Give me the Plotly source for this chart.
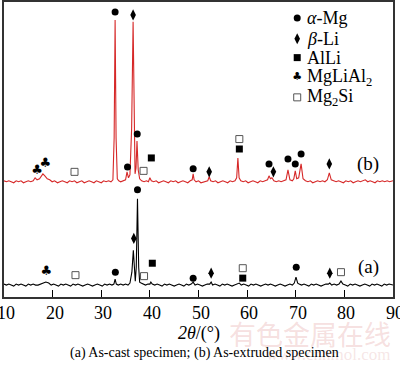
import plotly.graph_objects as go

# ---- data (2theta in degrees, intensity in arbitrary units) ----
# (b) As-extruded specimen (red)
xb = [10.0,10.5,11.0,11.5,12.0,12.5,13.0,13.5,14.0,14.5,15.0,15.5,16.0,16.4,16.8,17.3,17.7,18.0,18.4,18.9,
      19.4,19.9,20.4,21.0,21.5,22.0,22.5,23.0,23.5,24.0,24.5,25.0,25.5,26.0,26.5,27.0,27.5,28.0,28.5,29.0,
      29.5,30.0,30.5,31.0,31.5,32.0,32.4,32.65,32.85,33.05,33.3,33.6,34.0,34.5,35.0,35.3,35.6,35.9,36.25,36.55,
      36.8,36.95,37.15,37.35,37.6,37.9,38.3,38.8,39.3,39.7,40.0,40.3,40.8,41.3,41.8,42.3,42.8,43.3,43.8,44.3,
      44.8,45.3,45.8,46.3,46.8,47.3,47.8,48.3,48.7,48.9,49.1,49.5,50.0,50.5,51.0,51.5,51.9,52.2,52.5,53.0,
      53.5,54.0,54.5,55.0,55.5,56.0,56.5,57.0,57.5,57.85,58.1,58.35,58.7,59.2,59.7,60.2,60.7,61.2,61.7,62.2,
      62.7,63.2,63.7,64.2,64.5,64.8,65.1,65.5,66.0,66.5,67.0,67.5,68.0,68.4,68.8,69.3,69.6,69.9,70.2,70.6,
      71.1,71.5,72.0,72.5,73.0,73.5,74.0,74.5,75.0,75.5,76.0,76.5,76.9,77.3,77.8,78.3,78.8,79.3,79.8,80.3,
      80.8,81.3,81.8,82.3,82.8,83.3,83.8,84.3,84.8,85.3,85.8,86.3,86.8,87.3,87.8,88.3,88.8,89.3,90.0]
ib = [117,116,117,116,115,117,116,117,115,116,117,116,117,120,118,119,122,124,122,119,
      118,116,117,115,116,117,116,115,117,116,117,115,116,117,115,116,117,116,115,117,
      116,115,117,116,117,116,118,160,279,160,119,117,116,117,118,126,120,123,170,277,
      175,124,130,157,128,119,117,116,117,116,120,117,116,117,115,116,117,116,115,117,
      116,117,115,116,117,116,115,117,118,124,118,116,117,115,116,117,117,121,117,116,
      117,115,116,117,116,115,117,116,117,120,140,120,117,116,117,115,116,117,116,115,
      117,116,117,118,122,119,120,117,116,117,116,117,118,128,118,117,119,127,119,120,
      134,119,117,116,117,115,116,117,116,117,116,118,125,118,117,116,117,116,115,117,
      116,117,115,116,117,116,117,118,116,117,116,115,117,116,117,116,117,116,117]

# (a) As-cast specimen (black)
xa = [10.0,10.5,11.0,11.5,12.0,12.5,13.0,13.5,14.0,14.5,15.0,15.5,16.0,16.5,17.0,17.5,18.0,18.6,19.2,19.7,
      20.2,20.7,21.2,21.7,22.2,22.7,23.2,23.7,24.2,24.7,25.2,25.7,26.2,26.7,27.2,27.7,28.2,28.7,29.2,29.7,
      30.2,30.7,31.2,31.7,32.2,32.6,32.85,33.1,33.5,34.0,34.5,35.0,35.5,35.9,36.3,36.6,36.85,37.0,37.2,37.45,
      37.7,37.9,38.2,38.6,39.1,39.6,40.0,40.2,40.5,41.0,41.5,42.0,42.5,43.0,43.5,44.0,44.5,45.0,45.5,46.0,
      46.5,47.0,47.5,48.0,48.5,48.9,49.3,49.8,50.3,50.8,51.3,51.8,52.3,52.6,52.9,53.4,53.9,54.4,54.9,55.4,
      55.9,56.4,56.9,57.4,57.9,58.4,58.8,59.3,59.8,60.3,60.8,61.3,61.8,62.3,62.8,63.3,63.8,64.3,64.8,65.3,
      65.8,66.3,66.8,67.3,67.8,68.3,68.8,69.3,69.7,70.05,70.4,70.7,71.2,71.7,72.2,72.7,73.2,73.7,74.2,74.7,
      75.2,75.7,76.2,76.7,77.0,77.4,77.9,78.4,78.9,79.3,79.7,80.2,80.7,81.2,81.7,82.2,82.7,83.2,83.7,84.2,
      84.7,85.2,85.7,86.2,86.7,87.2,87.7,88.2,88.7,89.2,90.0]
ia = [13,12,13,12,11,13,12,13,12,11,13,12,13,12,12,13,14,15,14,12,
      13,12,11,13,12,13,12,11,13,12,13,12,11,12,13,12,11,12,13,12,
      11,13,12,13,12,13,18,13,12,13,12,13,12,14,25,47,25,16,30,99,
      30,15,14,13,12,13,13,15,13,12,13,12,11,13,12,13,12,11,12,13,
      12,11,13,12,13,15,12,13,12,11,12,13,13,15,12,13,12,11,13,12,
      13,12,11,12,13,14,12,13,12,11,13,12,13,12,11,12,13,12,13,12,
      11,12,13,12,11,12,13,12,14,20,14,13,12,13,12,11,13,12,13,12,
      11,12,13,13,14,12,13,12,13,16,13,12,11,13,12,13,12,11,12,13,
      12,11,13,12,13,12,11,13,12,13,12]

# phase markers (2theta, intensity)
mg_x = [32.85, 35.4, 37.4, 48.9, 64.5, 68.4, 69.9, 71.1, 37.45, 32.9, 48.9, 70.1]
mg_y = [287, 131, 164, 129, 134, 139, 134, 144, 108, 25, 19, 30]
li_x = [36.55, 52.2, 65.4, 76.9, 36.7, 52.6, 77.0]
li_y = [284, 126, 126, 134, 59, 24, 24]
alli_x = [40.3, 58.4, 40.5, 59.1]
alli_y = [140, 149, 34, 19]
mgsi_x = [24.5, 38.7, 58.4, 24.7, 38.8, 59.1, 79.3]
mgsi_y = [126, 127, 159, 22, 21, 29, 25]
club_x = [16.8, 18.5, 18.7]
club_y = [127, 134, 25]

x_ticks = [10, 20, 30, 40, 50, 60, 70, 80, 90]
x_tick_labels = ["10", "20", "30", "40", "50", "60", "70", "80", "90"]
legend_labels = ["<i>α</i>-Mg", "<i>β</i>-Li", "AlLi", "MgLiAl<sub>2</sub>", "Mg<sub>2</sub>Si"]
legend_x = 70.3
legend_y = [281, 260, 241, 221, 201]
curve_labels = ["(b)", "(a)"]
curve_label_x = [84.9, 84.9]
curve_label_y = [134, 30]

SERIF = "Liberation Serif"
RED = "rgb(214,40,40)"

fig = go.Figure()
fig.add_trace(go.Scatter(x=xb, y=ib, mode="lines", line=dict(color=RED, width=1.1), hoverinfo="skip"))
fig.add_trace(go.Scatter(x=xa, y=ia, mode="lines", line=dict(color="black", width=1.1), hoverinfo="skip"))

def mk(x, y, symbol, size, color="black", lw=0):
    fig.add_trace(go.Scatter(x=x, y=y, mode="markers",
                             marker=dict(symbol=symbol, size=size, color=color,
                                         line=dict(width=lw, color=color)),
                             hoverinfo="skip"))

mk(mg_x, mg_y, "circle", 7)
mk(li_x, li_y, "diamond-tall", 8)
mk(alli_x, alli_y, "square", 7)
mk(mgsi_x, mgsi_y, "square-open", 7, color="#555555", lw=1)
fig.add_trace(go.Scatter(x=club_x, y=club_y, mode="text", text=["♣"] * len(club_x),
                         textfont=dict(size=13, color="black", family="DejaVu Sans"),
                         textposition="middle center", hoverinfo="skip"))

# legend markers
mk([legend_x], [legend_y[0]], "circle", 7)
mk([legend_x], [legend_y[1]], "diamond-tall", 8)
mk([legend_x], [legend_y[2]], "square", 7)
mk([legend_x], [legend_y[4]], "square-open", 7, color="#555555", lw=1)
fig.add_trace(go.Scatter(x=[legend_x], y=[legend_y[3]], mode="text", text=["♣"],
                         textfont=dict(size=11, color="black", family="DejaVu Sans"),
                         textposition="middle center", hoverinfo="skip"))

for lab, yy in zip(legend_labels, legend_y):
    fig.add_annotation(x=legend_x + 1.5, y=yy, xref="x", yref="y", text=lab, showarrow=False,
                       xanchor="left", yanchor="middle", font=dict(family=SERIF, size=18, color="black"))
for lab, xx, yy in zip(curve_labels, curve_label_x, curve_label_y):
    fig.add_annotation(x=xx, y=yy, xref="x", yref="y", text=lab, showarrow=False,
                       xanchor="center", yanchor="middle", font=dict(family=SERIF, size=19, color="black"))

# watermark (faint, as in the source image)
fig.add_annotation(x=0.787, y=-0.125, xref="paper", yref="paper", text="有色金属在线", showarrow=False,
                   xanchor="center", yanchor="middle",
                   font=dict(family="Noto Sans CJK SC", size=27, color="rgba(225,150,150,0.3)"))
fig.add_annotation(x=1.0, y=-0.195, xref="paper", yref="paper", text="www.cnnmol.com", showarrow=False,
                   xanchor="right", yanchor="middle",
                   font=dict(family=SERIF, size=17, color="rgba(225,170,170,0.3)"))

# tick labels (as annotations so the edge labels stay visible)
for tv, tl in zip(x_ticks, x_tick_labels):
    fig.add_annotation(x=tv, y=-0.054, xref="x", yref="paper", text=tl, showarrow=False,
                       xanchor="center", yanchor="middle", xshift=2,
                       font=dict(family=SERIF, size=18, color="black"))

# axis title and caption
fig.add_annotation(x=0.5, y=-0.125, xref="paper", yref="paper", text="<i>2θ</i>/(°)", showarrow=False,
                   xanchor="center", yanchor="middle", font=dict(family=SERIF, size=18, color="black"))
fig.add_annotation(x=0.515, y=-0.19, xref="paper", yref="paper",
                   text="(a) As-cast specimen; (b) As-extruded specimen", showarrow=False,
                   xanchor="center", yanchor="middle", font=dict(family=SERIF, size=14, color="black"))

fig.update_layout(
    width=400, height=368,
    margin=dict(l=4, r=7, t=0, b=71),
    paper_bgcolor="white", plot_bgcolor="white",
    showlegend=False,
    xaxis=dict(range=[10, 90], tickvals=x_ticks, showticklabels=False, ticks="inside", ticklen=7,
               tickcolor="black", showline=True, linecolor="#333333", linewidth=1.5, mirror=True,
               showgrid=False, zeroline=False),
    yaxis=dict(range=[0, 297], showticklabels=False, ticks="", showline=True, linecolor="#333333",
               linewidth=1.5, mirror=True, showgrid=False, zeroline=False),
)

fig.write_html("out.html", config={"displayModeBar": False},
               post_script="document.body.style.margin='0';document.body.style.overflow='hidden';")
